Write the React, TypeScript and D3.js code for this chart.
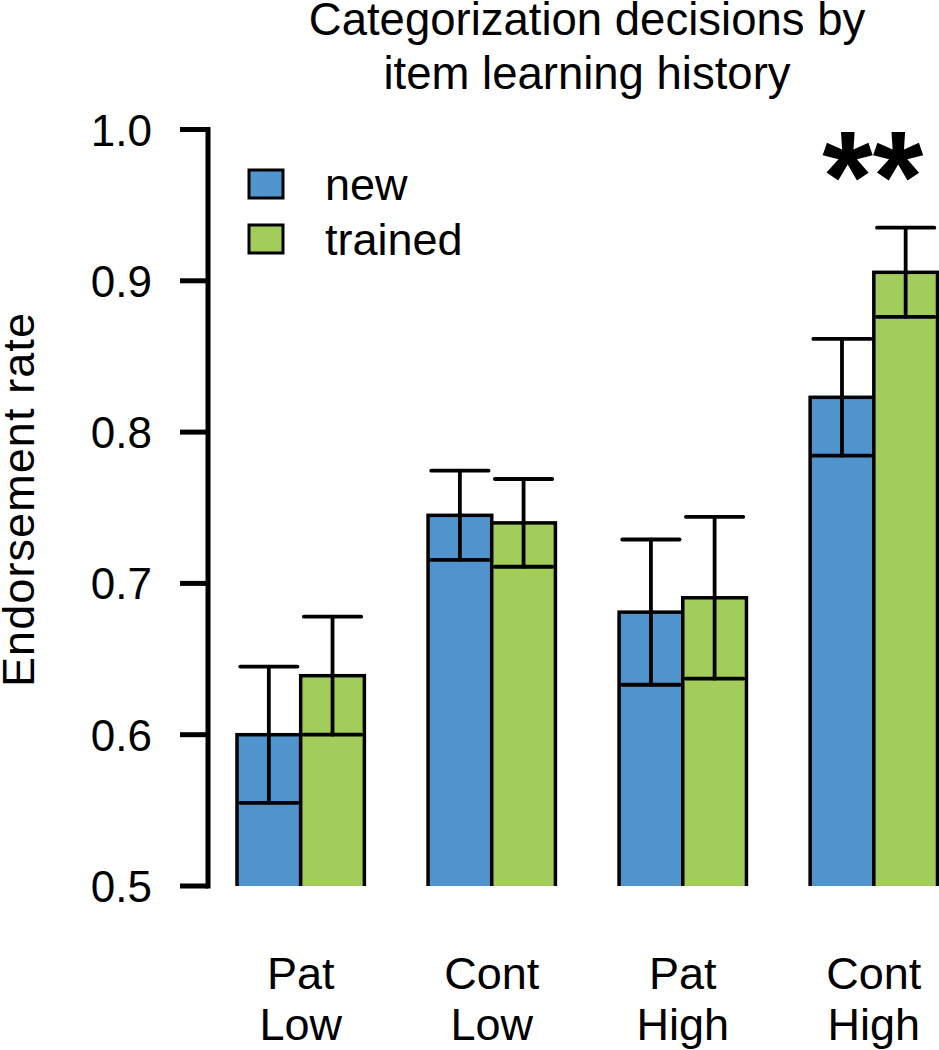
import React from "react";
import * as d3 from "d3";

const categories = ["Pat\nLow", "Cont\nLow", "Pat\nHigh", "Cont\nHigh"];
const seriesNames = ["new", "trained"];
const newMeans = [0.600, 0.745, 0.681, 0.823];
const newErr = [0.045, 0.0295, 0.048, 0.0386];
const trainedMeans = [0.639, 0.740, 0.6905, 0.9056];
const trainedErr = [0.039, 0.029, 0.0535, 0.0295];
const yTicks = [0.5, 0.6, 0.7, 0.8, 0.9, 1.0];
const significance = ["", "", "", "**"];
const colors = ["#4F94CD", "#A2CD5A"];

const W = 939;
const H = 1050;
const FONT = "'Liberation Sans', Arial, Helvetica, sans-serif";

export default function App() {
  const y = d3.scaleLinear().domain([0.5, 1.0]).range([886, 129.5]);
  const xg = d3
    .scaleBand<string>()
    .domain(categories)
    .range([237, 937.5])
    .paddingInner(1 / 3)
    .paddingOuter(0);
  const xs = d3.scaleBand<string>().domain(seriesNames).range([0, xg.bandwidth()]);

  const series = [
    { name: "new", means: newMeans, errs: newErr },
    { name: "trained", means: trainedMeans, errs: trainedErr },
  ];
  const capHalf = xs.bandwidth() * 0.45;

  return (
    <svg width={W} height={H} style={{ display: "block", position: "absolute", left: 0, top: 0 }} fontFamily={FONT}>
      <defs>
        <clipPath id="plotclip">
          <rect x={0} y={0} width={W} height={y(0.5)} />
        </clipPath>
      </defs>
      <rect x={0} y={0} width={W} height={H} fill="#fff" />
      {/* title */}
      <text x={587} y={35} textAnchor="middle" fontSize={45.5}>Categorization decisions by</text>
      <text x={587} y={89} textAnchor="middle" fontSize={45.5}>item learning history</text>

      {/* bars */}
      <g clipPath="url(#plotclip)">
        {categories.map((c, i) =>
          series.map((s, j) => {
            const x0 = (xg(c) as number) + (xs(s.name) as number);
            const w = xs.bandwidth();
            return (
              <rect
                key={c + s.name}
                x={x0}
                y={y(s.means[i])}
                width={w}
                height={y(0.5) - y(s.means[i]) + 10}
                fill={colors[j]}
                stroke="#000"
                strokeWidth={3.5}
              />
            );
          })
        )}
      </g>

      {/* error bars */}
      {categories.map((c, i) =>
        series.map((s, j) => {
          const cx = (xg(c) as number) + (xs(s.name) as number) + xs.bandwidth() / 2;
          const hi = y(s.means[i] + s.errs[i]);
          const lo = y(s.means[i] - s.errs[i]);
          return (
            <g key={"e" + c + s.name} stroke="#000" strokeWidth={3.8} strokeLinecap="round">
              <line x1={cx} x2={cx} y1={hi} y2={lo} />
              <line x1={cx - capHalf} x2={cx + capHalf} y1={hi} y2={hi} />
              <line x1={cx - capHalf} x2={cx + capHalf} y1={lo} y2={lo} />
            </g>
          );
        })
      )}

      {/* significance */}
      {categories.map((c, i) =>
        significance[i] ? (
          <text
            key={"sig" + i}
            x={(xg(c) as number) + xg.bandwidth() / 2 - 1}
            y={222}
            textAnchor="middle"
            fontSize={130}
            fontWeight="bold"
          >
            {significance[i]}
          </text>
        ) : null
      )}

      {/* y axis */}
      <g>
        <line x1={208} x2={208} y1={y(1.0)} y2={y(0.5)} stroke="#000" strokeWidth={5} strokeLinecap="square" />
        {yTicks.map((t) => (
          <g key={"t" + t}>
            <line x1={180} x2={208} y1={y(t)} y2={y(t)} stroke="#000" strokeWidth={5} />
            <text x={152} y={y(t) + 16} textAnchor="end" fontSize={44}>
              {d3.format(".1f")(t)}
            </text>
          </g>
        ))}
        <text
          transform={`translate(34,500) rotate(-90)`}
          textAnchor="middle"
          fontSize={45}
          textLength={374}
          lengthAdjust="spacing"
        >
          Endorsement rate
        </text>
      </g>

      {/* x labels */}
      {categories.map((c) => {
        const cx = (xg(c) as number) + xg.bandwidth() / 2;
        const lines = c.split("\n");
        return (
          <text key={"xl" + c} textAnchor="middle" fontSize={45}>
            <tspan x={cx} y={989}>{lines[0]}</tspan>
            <tspan x={cx} y={1040}>{lines[1]}</tspan>
          </text>
        );
      })}

      {/* legend */}
      {seriesNames.map((n, j) => (
        <g key={"lg" + n}>
          <rect x={249} y={170 + j * 55} width={34} height={28} fill={colors[j]} stroke="#000" strokeWidth={3} />
          <text x={325} y={200 + j * 55} fontSize={45}>{n}</text>
        </g>
      ))}
    </svg>
  );
}
